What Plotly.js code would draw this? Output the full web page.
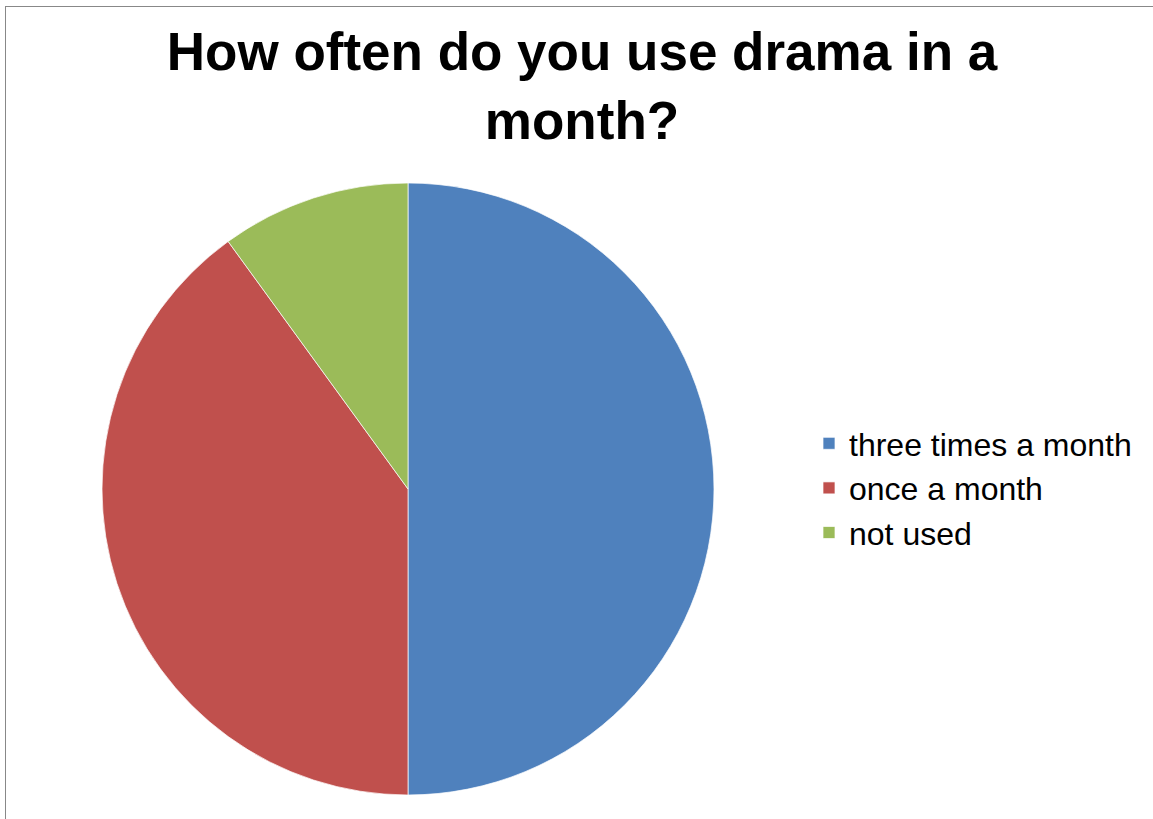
<!DOCTYPE html>
<html>
<head>
<meta charset="utf-8">
<script src="https://cdn.plot.ly/plotly-3.0.1.min.js"></script>
<style>
  html, body { margin: 0; padding: 0; background: #fff; overflow: hidden; }
  #frame { position: absolute; left: 5px; top: 6px; width: 1170px; height: 840px; border: 1px solid #888; box-sizing: border-box; }
  #chart { position: absolute; left: 0; top: 0; width: 1153px; height: 819px; }
</style>
</head>
<body>
<div id="frame"></div>
<div id="chart"></div>
<script>
const categories = ["three times a month", "once a month", "not used"];
const values = [50, 40, 10];
const colors = ["#4F81BD", "#C0504D", "#9BBB59"];

const W = 1153, H = 819;
const trace = {
  type: "pie",
  labels: categories,
  values: values,
  sort: false,
  direction: "clockwise",
  rotation: 0,
  textinfo: "none",
  hoverinfo: "label+value",
  marker: { colors: colors, line: { color: "rgba(255,255,255,0.7)", width: 1 } },
  domain: { x: [102 / W, 714 / W], y: [24 / H, 636 / H] }
};

const layout = {
  width: W, height: H,
  margin: { l: 0, r: 0, t: 0, b: 0 },
  paper_bgcolor: "rgba(0,0,0,0)",
  plot_bgcolor: "rgba(0,0,0,0)",
  font: { family: "Liberation Sans, Arial, sans-serif", color: "#000" },
  title: {
    text: "<b>How often do you use drama in a<br>month?</b>",
    font: { family: "Liberation Sans, Arial, sans-serif", size: 53, color: "#000" },
    x: 582 / W, xanchor: "center",
    y: 1 - 70 / H, yanchor: "top"
  },
  showlegend: true,
  legend: {
    x: 809 / W, xanchor: "left",
    y: 1 - 416 / H, yanchor: "top",
    font: { family: "Liberation Sans, Arial, sans-serif", size: 32, color: "#000" },
    bgcolor: "rgba(0,0,0,0)",
    itemwidth: 30,
    traceorder: "normal"
  }
};

Plotly.newPlot("chart", [trace], layout, { displayModeBar: false, staticPlot: true });
</script>
</body>
</html>
